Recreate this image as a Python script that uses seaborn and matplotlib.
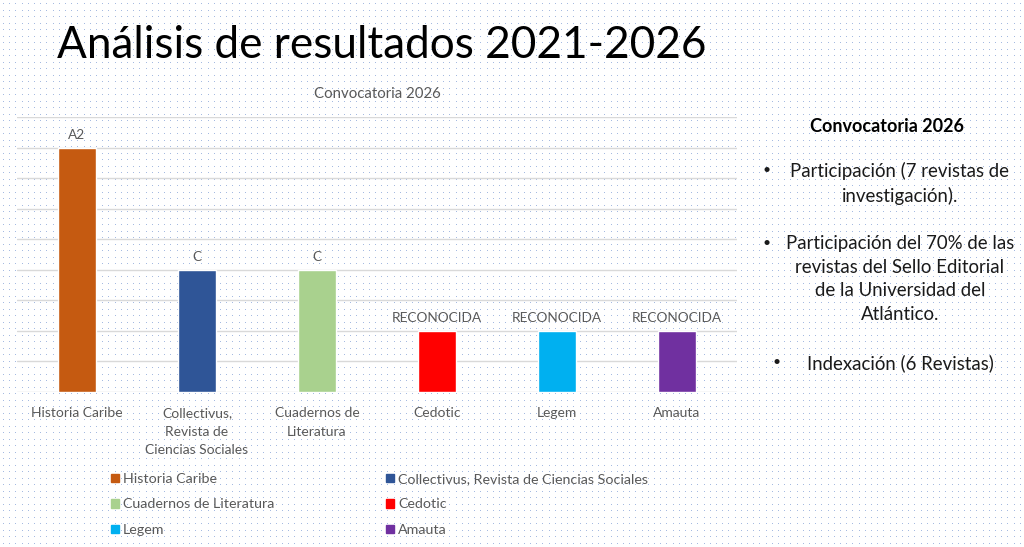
import numpy as np
import pandas as pd
import matplotlib
matplotlib.use("Agg")
import matplotlib.pyplot as plt
import seaborn as sns

# ------------------------------------------------------------
# Data
# ------------------------------------------------------------
revistas = [
    "Historia Caribe",
    "Collectivus, Revista de Ciencias Sociales",
    "Cuadernos de Literatura",
    "Cedotic",
    "Legem",
    "Amauta",
]
tick_labels = [
    "Historia Caribe",
    "Collectivus,\nRevista de\nCiencias Sociales",
    "Cuadernos de\nLiteratura",
    "Cedotic",
    "Legem",
    "Amauta",
]
valores = [8, 4, 4, 2, 2, 2]
categorias = ["A2", "C", "C", "RECONOCIDA", "RECONOCIDA", "RECONOCIDA"]
colores = ["#C55A11", "#2F5597", "#A9D18E", "#FF0000", "#00B0F0", "#7030A0"]

resumen_titulo = "Convocatoria 2026"
resumen_puntos = [
    "Participación (7 revistas de\ninvestigación).",
    "Participación del 70% de las\nrevistas del Sello Editorial\nde la Universidad del\nAtlántico.",
    "Indexación (6 Revistas)",
]

df = pd.DataFrame({"revista": revistas, "valor": valores})

# ------------------------------------------------------------
# Figure
# ------------------------------------------------------------
sns.set_theme(style="white")
plt.rcParams["font.family"] = ["Lato", "DejaVu Sans"]

W, H = 1024, 547
fig = plt.figure(figsize=(W / 100, H / 100), dpi=100)
fig.patch.set_facecolor("white")

# dotted slide background
bg = fig.add_axes([0, 0, 1, 1], zorder=-1)
gx, gy = np.meshgrid(np.arange(3, W, 6.2), np.arange(3, H, 6.5))
bg.scatter(gx.ravel(), gy.ravel(), s=0.55, color="#93acdb", linewidths=0)
bg.set_xlim(0, W)
bg.set_ylim(H, 0)
bg.axis("off")

# main chart
ax = fig.add_axes([17 / W, (H - 392) / H, 720 / W, 275 / H], zorder=1)
ax.set_facecolor("none")

sns.barplot(
    data=df, x="revista", y="valor", hue="revista",
    palette=colores, width=0.32, dodge=False, legend=False, ax=ax,
    saturation=1,
)

for cont, lab in zip(ax.containers, categorias):
    ax.bar_label(cont, labels=[lab], padding=5, fontsize=9.8, color="#595959")

ax.set_ylim(0, 9)
ax.set_xlim(-0.5, 5.5)
ax.set_yticks(range(0, 10))
ax.set_yticklabels([])
ax.yaxis.grid(True, color="#d9d9d9", linewidth=1)
ax.set_axisbelow(True)
ax.set_xlabel("")
ax.set_ylabel("")
ax.set_xticks(range(len(revistas)))
ax.set_xticklabels(tick_labels, fontsize=10, color="#595959", linespacing=1.65,
                   va="top")
ax.tick_params(axis="x", length=0, pad=11)
ax.tick_params(axis="y", length=0)
for s in ax.spines.values():
    s.set_visible(False)

ax.set_title("Convocatoria 2026", fontsize=10.8, color="#595959", pad=14)

# legend in two columns, filled row by row
handles = [plt.Rectangle((0, 0), 1, 1, color=c) for c in colores]
leg_kw = dict(loc="upper left", frameon=False, fontsize=10.3, handlelength=0.55,
              handleheight=0.55, handletextpad=0.3, labelspacing=0.95,
              labelcolor="#595959")
fig.legend([handles[i] for i in (0, 2, 4)], [revistas[i] for i in (0, 2, 4)],
           bbox_to_anchor=(98 / W, 1 - 460 / H), **leg_kw)
fig.legend([handles[i] for i in (1, 3, 5)], [revistas[i] for i in (1, 3, 5)],
           bbox_to_anchor=(373 / W, 1 - 460 / H), **leg_kw)

# slide title
fig.text(57 / W, 1 - 46 / H, "Análisis de resultados 2021-2026",
         fontsize=31.8, color="black", ha="left", va="center")

# right text box
fig.text(887 / W, 1 - 126 / H, resumen_titulo, fontsize=13,
         fontweight="bold", color="black", ha="center", va="center")
para_y = [162, 235, 354]
bullet_x = [767, 767, 777]
for txt, y0, bx in zip(resumen_puntos, para_y, bullet_x):
    fig.text(900 / W, 1 - y0 / H, txt, fontsize=13.4, color="#1a1a1a",
             ha="center", va="top", multialignment="center", linespacing=1.48)
    fig.text(bx / W, 1 - (y0 + 8) / H, "•", fontsize=10, color="#1a1a1a",
             ha="center", va="center")

fig.savefig("out.png", dpi=100, facecolor="white")
